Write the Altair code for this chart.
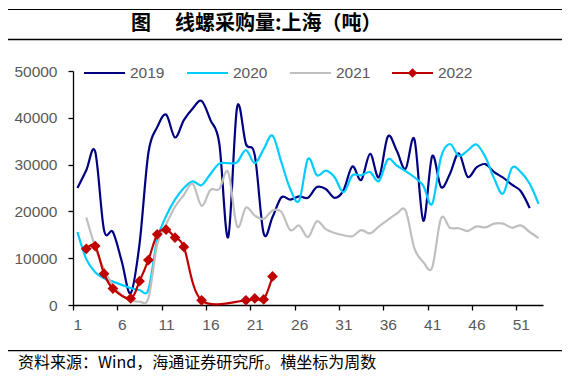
import altair as alt
import pandas as pd

# ---------------- data ----------------
years = ["2019", "2020", "2021", "2022"]
colors = ["#000080", "#00CCFF", "#BFBFBF", "#C00000"]

weeks_2019 = list(range(1, 53))
vals_2019 = [25000, 28800, 32800, 16000, 15600, 9300, 2500, 13000, 32500, 38000,
             40700, 35800, 39500, 42000, 43600, 39500, 34500, 14500, 42200, 34400,
             32000, 15300, 18800, 23000, 22500, 23200, 22900, 25200, 24800, 22900,
             24500, 29600, 26700, 32300, 27300, 36000, 33000, 29100, 35400, 18000,
             31800, 25200, 28000, 32400, 27400, 29400, 30100, 28400, 27200, 25700,
             24300, 20700]

weeks_2020 = list(range(1, 54))
vals_2020 = [15600, 9800, 7000, 5700, 5000, 4300, 3600, 3200, 3300, 14000,
             19000, 22500, 25000, 26400, 25600, 28000, 30200, 30300, 30500, 33100,
             30300, 33300, 36200, 30500, 24800, 22300, 31200, 27700, 28700, 27300,
             24100, 27700, 27700, 28400, 26500, 31100, 29800, 28600, 27300, 25500,
             21600, 31600, 34400, 31900, 33000, 34300, 31600, 27000, 23800, 29300,
             28400, 25900, 21600]

weeks_2021 = list(range(2, 54))
vals_2021 = [18700, 12400, 7600, 4200, 2100, 1100, 700, 1500, 13000, 17200,
             21000, 23500, 25900, 21200, 24600, 24800, 28400, 16800, 20800, 19100,
             18400, 20200, 19900, 16000, 17000, 14500, 17900, 16200, 15400, 14900,
             14700, 16000, 15300, 16800, 18200, 19500, 20200, 12100, 9200, 8000,
             18500, 16500, 16400, 15800, 16800, 16600, 17400, 17400, 16500, 17000,
             15600, 14300]

weeks_2022 = [2, 3, 4, 5, 7, 8, 9, 10, 11, 12, 13, 15, 20, 21, 22, 23]
vals_2022 = [12000, 12600, 6700, 3500, 1400, 5100, 9600, 15100, 16100, 14400,
             12400, 1000, 1000, 1400, 1200, 6100]

x_labels = [1, 6, 11, 16, 21, 26, 31, 36, 41, 46, 51]
y_ticks = [0, 10000, 20000, 30000, 40000, 50000]

title_mark = "图"
title_text = "线螺采购量:上海（吨）"
source_text = "资料来源：Wind，海通证券研究所。横坐标为周数"

series = {
    "2019": (weeks_2019, vals_2019),
    "2020": (weeks_2020, vals_2020),
    "2021": (weeks_2021, vals_2021),
    "2022": (weeks_2022, vals_2022),
}

# ---------------- layout constants ----------------
W, H = 470, 234
unit = W / 53.0
LABEL_FONT = "Liberation Sans"
CJK_FONT = "Noto Sans CJK SC"
GRAY_TEXT = "#595959"

x_enc = alt.X(
    "week:Q",
    scale=alt.Scale(domain=[0.5, 53.5], nice=False, zero=False),
    axis=alt.Axis(
        values=x_labels, title=None, grid=False,
        tickOffset=-unit / 2, labelOffset=unit / 2,
        tickSize=5, tickColor="#000000", tickWidth=1.3,
        domainColor="#000000", domainWidth=1.3,
        labelFont=LABEL_FONT, labelFontSize=15.5, labelColor=GRAY_TEXT,
        labelPadding=7,
    ),
)
y_enc = alt.Y(
    "value:Q",
    scale=alt.Scale(domain=[0, 50000], nice=False),
    axis=alt.Axis(
        values=y_ticks, format="d", title=None, grid=False,
        tickSize=5, tickColor="#000000", tickWidth=1.3,
        domainColor="#000000", domainWidth=1.3,
        labelFont=LABEL_FONT, labelFontSize=15.5, labelColor=GRAY_TEXT,
        labelPadding=11,
    ),
)

layers = []
for yr, col in zip(years, colors):
    wk, vv = series[yr]
    d = pd.DataFrame({"week": wk, "value": vv, "year": yr})
    base = alt.Chart(d)
    layers.append(
        base.mark_line(interpolate="cardinal", tension=0, strokeWidth=2.2, color=col)
        .encode(x=x_enc, y=y_enc)
    )
    if yr == "2022":
        layers.append(
            base.mark_point(shape="diamond", filled=True, size=115, color=col, opacity=1)
            .encode(x=x_enc, y=y_enc)
        )

# ---------------- legend (manual) ----------------
one = pd.DataFrame({"k": [0]})
leg_y = 2
leg_starts = [11, 114, 217, 319]
for yr, col, x0 in zip(years, colors, leg_starts):
    layers.append(
        alt.Chart(one).mark_rule(color=col, strokeWidth=2.2)
        .encode(x=alt.value(x0), x2=alt.value(x0 + 41), y=alt.value(leg_y))
    )
    layers.append(
        alt.Chart(one).mark_text(align="left", baseline="middle", font=LABEL_FONT,
                                 fontSize=15.5, color=GRAY_TEXT)
        .encode(x=alt.value(x0 + 46), y=alt.value(leg_y), text=alt.value(yr))
    )
    if yr == "2022":
        layers.append(
            alt.Chart(one).mark_point(shape="diamond", filled=True, size=90, color=col, opacity=1)
            .encode(x=alt.value(x0 + 20.5), y=alt.value(leg_y))
        )

# ---------------- title, rules, source ----------------
layers.append(
    alt.Chart(one).mark_rule(color="#000000", strokeWidth=1.2)
    .encode(x=alt.value(-68), x2=alt.value(490), y=alt.value(-61.5))
)
layers.append(
    alt.Chart(one).mark_rule(color="#000000", strokeWidth=1.4)
    .encode(x=alt.value(-68), x2=alt.value(490), y=alt.value(-31.5))
)
layers.append(
    alt.Chart(one).mark_text(align="center", baseline="middle", font=CJK_FONT,
                             fontSize=20, fontWeight="bold", color="#000000")
    .encode(x=alt.value(68), y=alt.value(-47), text=alt.value(title_mark))
)
layers.append(
    alt.Chart(one).mark_text(align="left", baseline="middle", font=CJK_FONT,
                             fontSize=20, fontWeight="bold", color="#000000")
    .encode(x=alt.value(102), y=alt.value(-47), text=alt.value(title_text))
)
layers.append(
    alt.Chart(one).mark_rule(color="#000000", strokeWidth=1.2)
    .encode(x=alt.value(-68), x2=alt.value(492), y=alt.value(279.7))
)
layers.append(
    alt.Chart(one).mark_text(align="left", baseline="middle", font=CJK_FONT,
                             fontSize=16, color="#000000")
    .encode(x=alt.value(-55), y=alt.value(291.5), text=alt.value(source_text))
)

chart = (
    alt.layer(*layers)
    .properties(
        width=W, height=H,
        autosize=alt.AutoSizeParams(type="none"),
        padding={"left": 65, "top": 63, "right": 19, "bottom": 66},
    )
    .configure_view(stroke=None)
)

chart.save("out.html", embed_options={"renderer": "svg", "actions": False})
